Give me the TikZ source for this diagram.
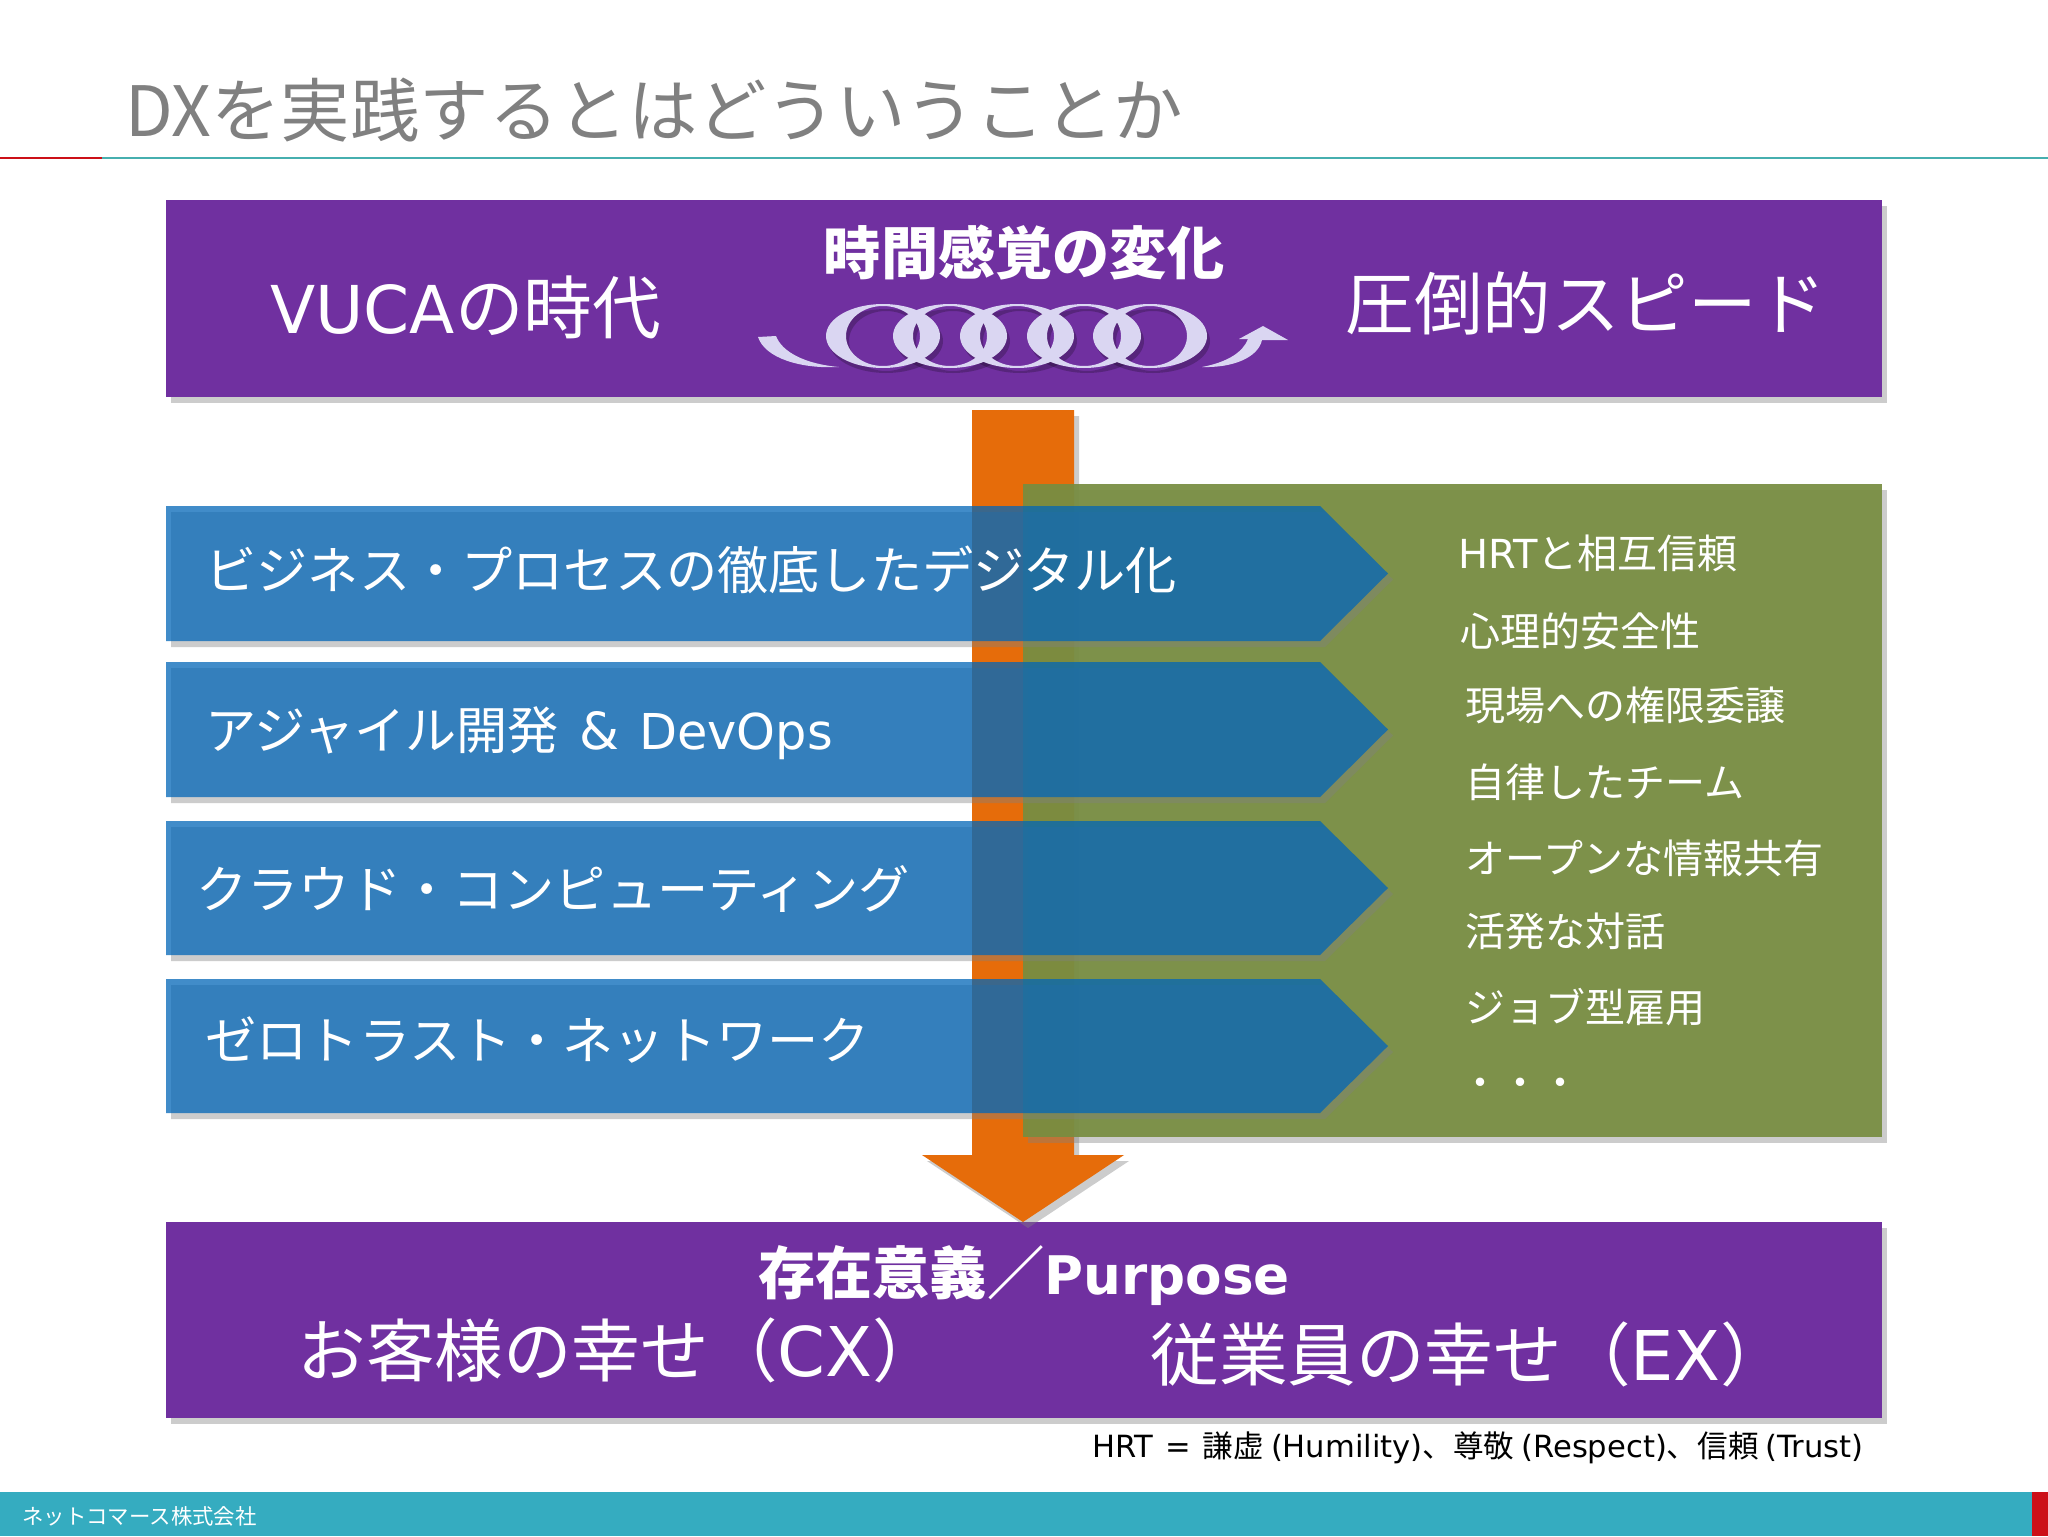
\documentclass[tikz,border=0pt]{standalone}
\usepackage{fontspec}
\usepackage{xcolor}
\usetikzlibrary{shadows}
\setmainfont{Noto Sans CJK JP}
\newfontfamily\latinfont{DejaVu Sans}
\newcommand{\lat}[1]{{\latinfont #1}}
\newcommand{\fsize}[1]{\fontsize{#1}{#1}\selectfont}
\definecolor{boxpurple}{RGB}{112,48,160}
\definecolor{flowblue}{RGB}{2,102,183}
\definecolor{flowgreen}{RGB}{119,141,64}
\definecolor{floworange}{RGB}{230,108,10}
\definecolor{barteal}{RGB}{53,172,192}
\definecolor{lineteal}{RGB}{70,175,175}
\definecolor{linered}{RGB}{204,16,24}
\definecolor{ringlilac}{RGB}{218,214,242}
\tikzset{
    soft-shadow/.style = {drop shadow={shadow xshift=2.5pt, shadow yshift=-3pt, opacity=0.4}},
    purple-box/.style = {fill=boxpurple, soft-shadow},
    blue-arrow/.style = {fill=flowblue, fill opacity=0.75, soft-shadow},
    big-text/.style = {text=white, inner sep=0pt, font=\fsize{34.3}},
    bold-text/.style = {text=white, inner sep=0pt, font=\fsize{28.6}\bfseries},
    flow-text/.style = {text=white, inner sep=0pt, anchor=west, font=\fsize{25.6}},
    list-text/.style = {text=white, inner sep=0pt, anchor=west, font=\fsize{20}},
    ring-part/.style = {fill=ringlilac, even odd rule},
    ring-shade/.style = {fill=black, fill opacity=0.22, even odd rule},
}

\begin{document}
\begin{tikzpicture}[x=0.5pt, y=-0.5pt]
\useasboundingbox (0,0) rectangle (2048,1536);
\fill[white] (0,0) rectangle (2048,1536);

% header and footer
\node[anchor=west, inner sep=0pt, text=black!50, font=\fsize{34.7}] (title) at (125,110) {DXを実践するとはどういうことか};
\draw[lineteal, line width=1pt] (102,158) -- (2048,158);
\draw[linered, line width=1pt] (0,158) -- (102,158);
\fill[barteal] (0,1492) rectangle (2048,1536);
\fill[linered] (2032,1492) rectangle (2048,1536);
\node[anchor=west, inner sep=0pt, text=white, font=\fsize{10.7}] (company) at (22,1516) {ネットコマース株式会社};

% purple boxes
\path[purple-box] (166,200) rectangle (1882,397);
\path[purple-box] (166,1222) rectangle (1882,1418);

% orange arrow
\path[fill=floworange, soft-shadow] (972,410) -- (1074,410) -- (1074,1155) -- (1124,1155) -- (1023,1222) -- (922,1155) -- (972,1155) -- cycle;

% green panel
\path[fill=flowgreen, fill opacity=0.92, soft-shadow] (1023,484) rectangle (1882,1137);

% blue arrows
\foreach \y/\h in {506/135, 662/135, 821/134, 979/134}
    \path[blue-arrow] (166,\y) -- (1320,\y) -- (1388,\y+\h/2) -- (1320,\y+\h) -- (166,\y+\h) -- cycle;

% spiral
\foreach \cx in {883,950,1017,1084,1150} {
    \path[ring-shade] (\cx+3,341) ellipse [x radius=57, y radius=32] (\cx+3,341) ellipse [x radius=37, y radius=30];
}
\foreach \cx in {883,950,1017,1084,1150} {
    \path[ring-part] (\cx,336) ellipse [x radius=57, y radius=32] (\cx,336) ellipse [x radius=37, y radius=30];
}
\fill[ringlilac] (758,337) -- (776,336) .. controls (782,352) and (805,364) .. (839,367) .. controls (800,369) and (765,358) .. (758,337) -- cycle;
\fill[ringlilac] (1202,367) .. controls (1228,362) and (1243,352) .. (1248,339) -- (1239,339) -- (1263,326) -- (1288,340) -- (1262,340) .. controls (1258,358) and (1232,368) .. (1202,367) -- cycle;

% top texts
\node[big-text, anchor=west] (vuca) at (270,307) {{\fsize{33}\lat{VUCA}}の時代};
\node[bold-text] (change) at (1024,253) {時間感覚の変化};
\node[big-text, anchor=west] (speed) at (1345,303) {圧倒的スピード};

% flow texts
\node[flow-text] (digital) at (205,570) {ビジネス・プロセスの徹底したデジタル化};
\node[flow-text] (agile) at (205,733) {アジャイル開発\hspace{10pt}\lat{\&}\hspace{10pt}{\fsize{24.7}\lat{DevOps}}};
\node[flow-text] (cloud) at (196,889) {クラウド・コンピューティング};
\node[flow-text] (zerotrust) at (205,1040) {ゼロトラスト・ネットワーク};

% culture list
\node[list-text] (hrt) at (1458,553) {\lat{HRT}と相互信頼};
\node[list-text] (safety) at (1460,631) {心理的安全性};
\node[list-text] (empower) at (1465,705) {現場への権限委譲};
\node[list-text] (team) at (1465,782) {自律したチーム};
\node[list-text] (sharing) at (1465,858) {オープンな情報共有};
\node[list-text] (dialog) at (1465,931) {活発な対話};
\node[list-text] (jobtype) at (1465,1007) {ジョブ型雇用};
\node[list-text] (more) at (1460,1088) {・・・};

% bottom texts
\node[bold-text] (purpose) at (1024,1276) {存在意義／{\fsize{26.6}\lat{Purpose}}};
\node[big-text, anchor=west] (cx) at (297,1350) {お客様の幸せ（\lat{CX}）};
\node[big-text, anchor=west] (ex) at (1150,1354) {従業員の幸せ（\lat{EX}）};
\node[anchor=east, inner sep=0pt, text=black, font=\fsize{15.3}] (note) at (1864,1448) {\lat{HRT\hspace{6pt}=\hspace{6pt}}謙虚 \lat{(Humility)}、尊敬 \lat{(Respect)}、信頼 \lat{(Trust)}};
\end{tikzpicture}
\end{document}
